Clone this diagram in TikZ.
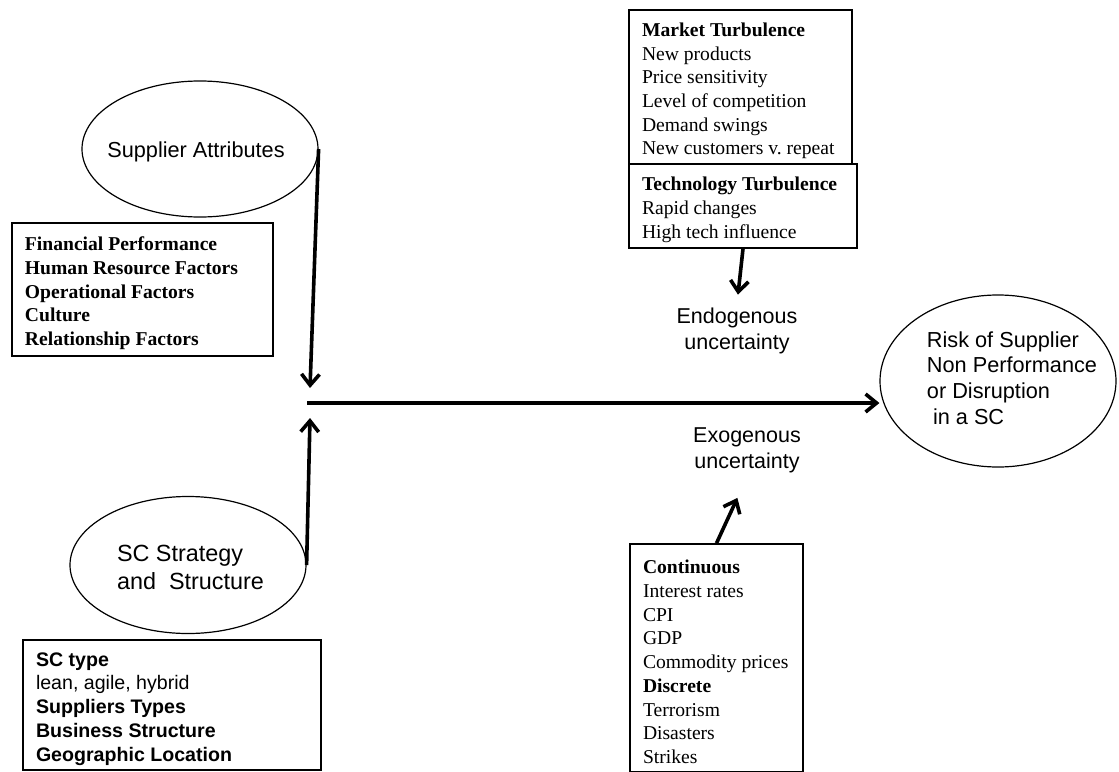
\documentclass[tikz,border=0pt]{standalone}
\usepackage{fontspec}
\setmainfont{Liberation Serif}
\setsansfont{Liberation Sans}
\usetikzlibrary{shapes.geometric,arrows.meta}
\newcommand\gap{\rule{0pt}{10.7pt}}

\begin{document}
\begin{tikzpicture}[x=0.5pt,y=-0.5pt,
  bubble/.style={ellipse,draw,line width=0.6pt,minimum width=118pt,inner sep=0pt},
  bubtext/.style={font=\sffamily\fontsize{10.85}{14}\selectfont,align=left,inner sep=0pt},
  listbox/.style={draw,line width=0.8pt,align=flush left,inner xsep=6.5pt,inner ysep=0pt,
    font=\fontsize{9.8}{11.85}\selectfont},
  boldlist/.style={listbox,font=\fontsize{9.8}{11.85}\selectfont\bfseries},
  uncert/.style={font=\sffamily\fontsize{10.75}{13}\selectfont,align=center,inner sep=2pt},
  flow/.style={->,line width=1.8pt},
  >={Straight Barb[length=5.5pt,width=9pt]}]
\useasboundingbox (0,0) rectangle (1119,771);

% left side: the two groups of factors
\node[bubble,minimum height=68pt,label={[bubtext,xshift=-2pt,yshift=-1.5pt]center:Supplier Attributes}] (sa) at (200,149) {};
\node[boldlist,text width=117.5pt,minimum height=66.5pt] (fin) at (142.5,289.5)
  {\gap Financial Performance\\Human Resource Factors\\Operational Factors\\Culture\\Relationship Factors};
\node[bubble,minimum height=68.5pt,label={[bubtext,xshift=1.25pt,yshift=-1pt,font=\sffamily\fontsize{11.7}{14}\selectfont]center:SC Strategy\\and~~Structure}] (scs) at (188,565) {};
\node[listbox,text width=136pt,minimum height=65pt,font=\sffamily\fontsize{9.8}{11.85}\selectfont] (sctype) at (172,705)
  {\gap\textbf{SC type}\\lean, agile, hybrid\\\textbf{Suppliers Types}\\\textbf{Business Structure}\\\textbf{Geographic Location}};

% right side: uncertainty and outcome
\node[listbox,text width=98.5pt,minimum height=77pt] (mkt) at (740.5,87)
  {\gap\textbf{Market Turbulence}\\New products\\Price sensitivity\\Level of competition\\Demand swings\\New customers v.\ repeat};
\node[listbox,text width=101pt,minimum height=42pt] (tech) at (743,206)
  {\gap\textbf{Technology Turbulence}\\Rapid changes\\High tech influence};
\node[uncert] (endo) at (737,331) {Endogenous\\uncertainty};
\node[uncert] (exo) at (747,450) {Exogenous\\uncertainty};
\node[listbox,text width=73.5pt,minimum height=114pt] (cont) at (716.5,658)
  {\gap\textbf{Continuous}\\Interest rates\\CPI\\GDP\\Commodity prices\\\textbf{Discrete}\\Terrorism\\Disasters\\Strikes};
\node[bubble,minimum height=86pt,label={[bubtext,xshift=7pt,yshift=1.5pt,font=\sffamily\fontsize{10.85}{12.85}\selectfont]center:Risk of Supplier\\Non Performance\\or Disruption\\~in a SC}] (risk) at (998,381) {};

\coordinate (hubin) at (310,388);
\coordinate (hubup) at (310,418);
\coordinate (hub) at (307,403);

\draw[flow] (sa.east) -- (hubin);
\draw[flow] (scs.east) -- (hubup);
\draw[flow] (hub) -- (hub -| risk.west);
\draw[flow,shorten >=4.5pt] (tech.south) -- (endo.north);
\draw[flow,shorten >=11.5pt] (cont.north) -- (exo.south);
\end{tikzpicture}
\end{document}
